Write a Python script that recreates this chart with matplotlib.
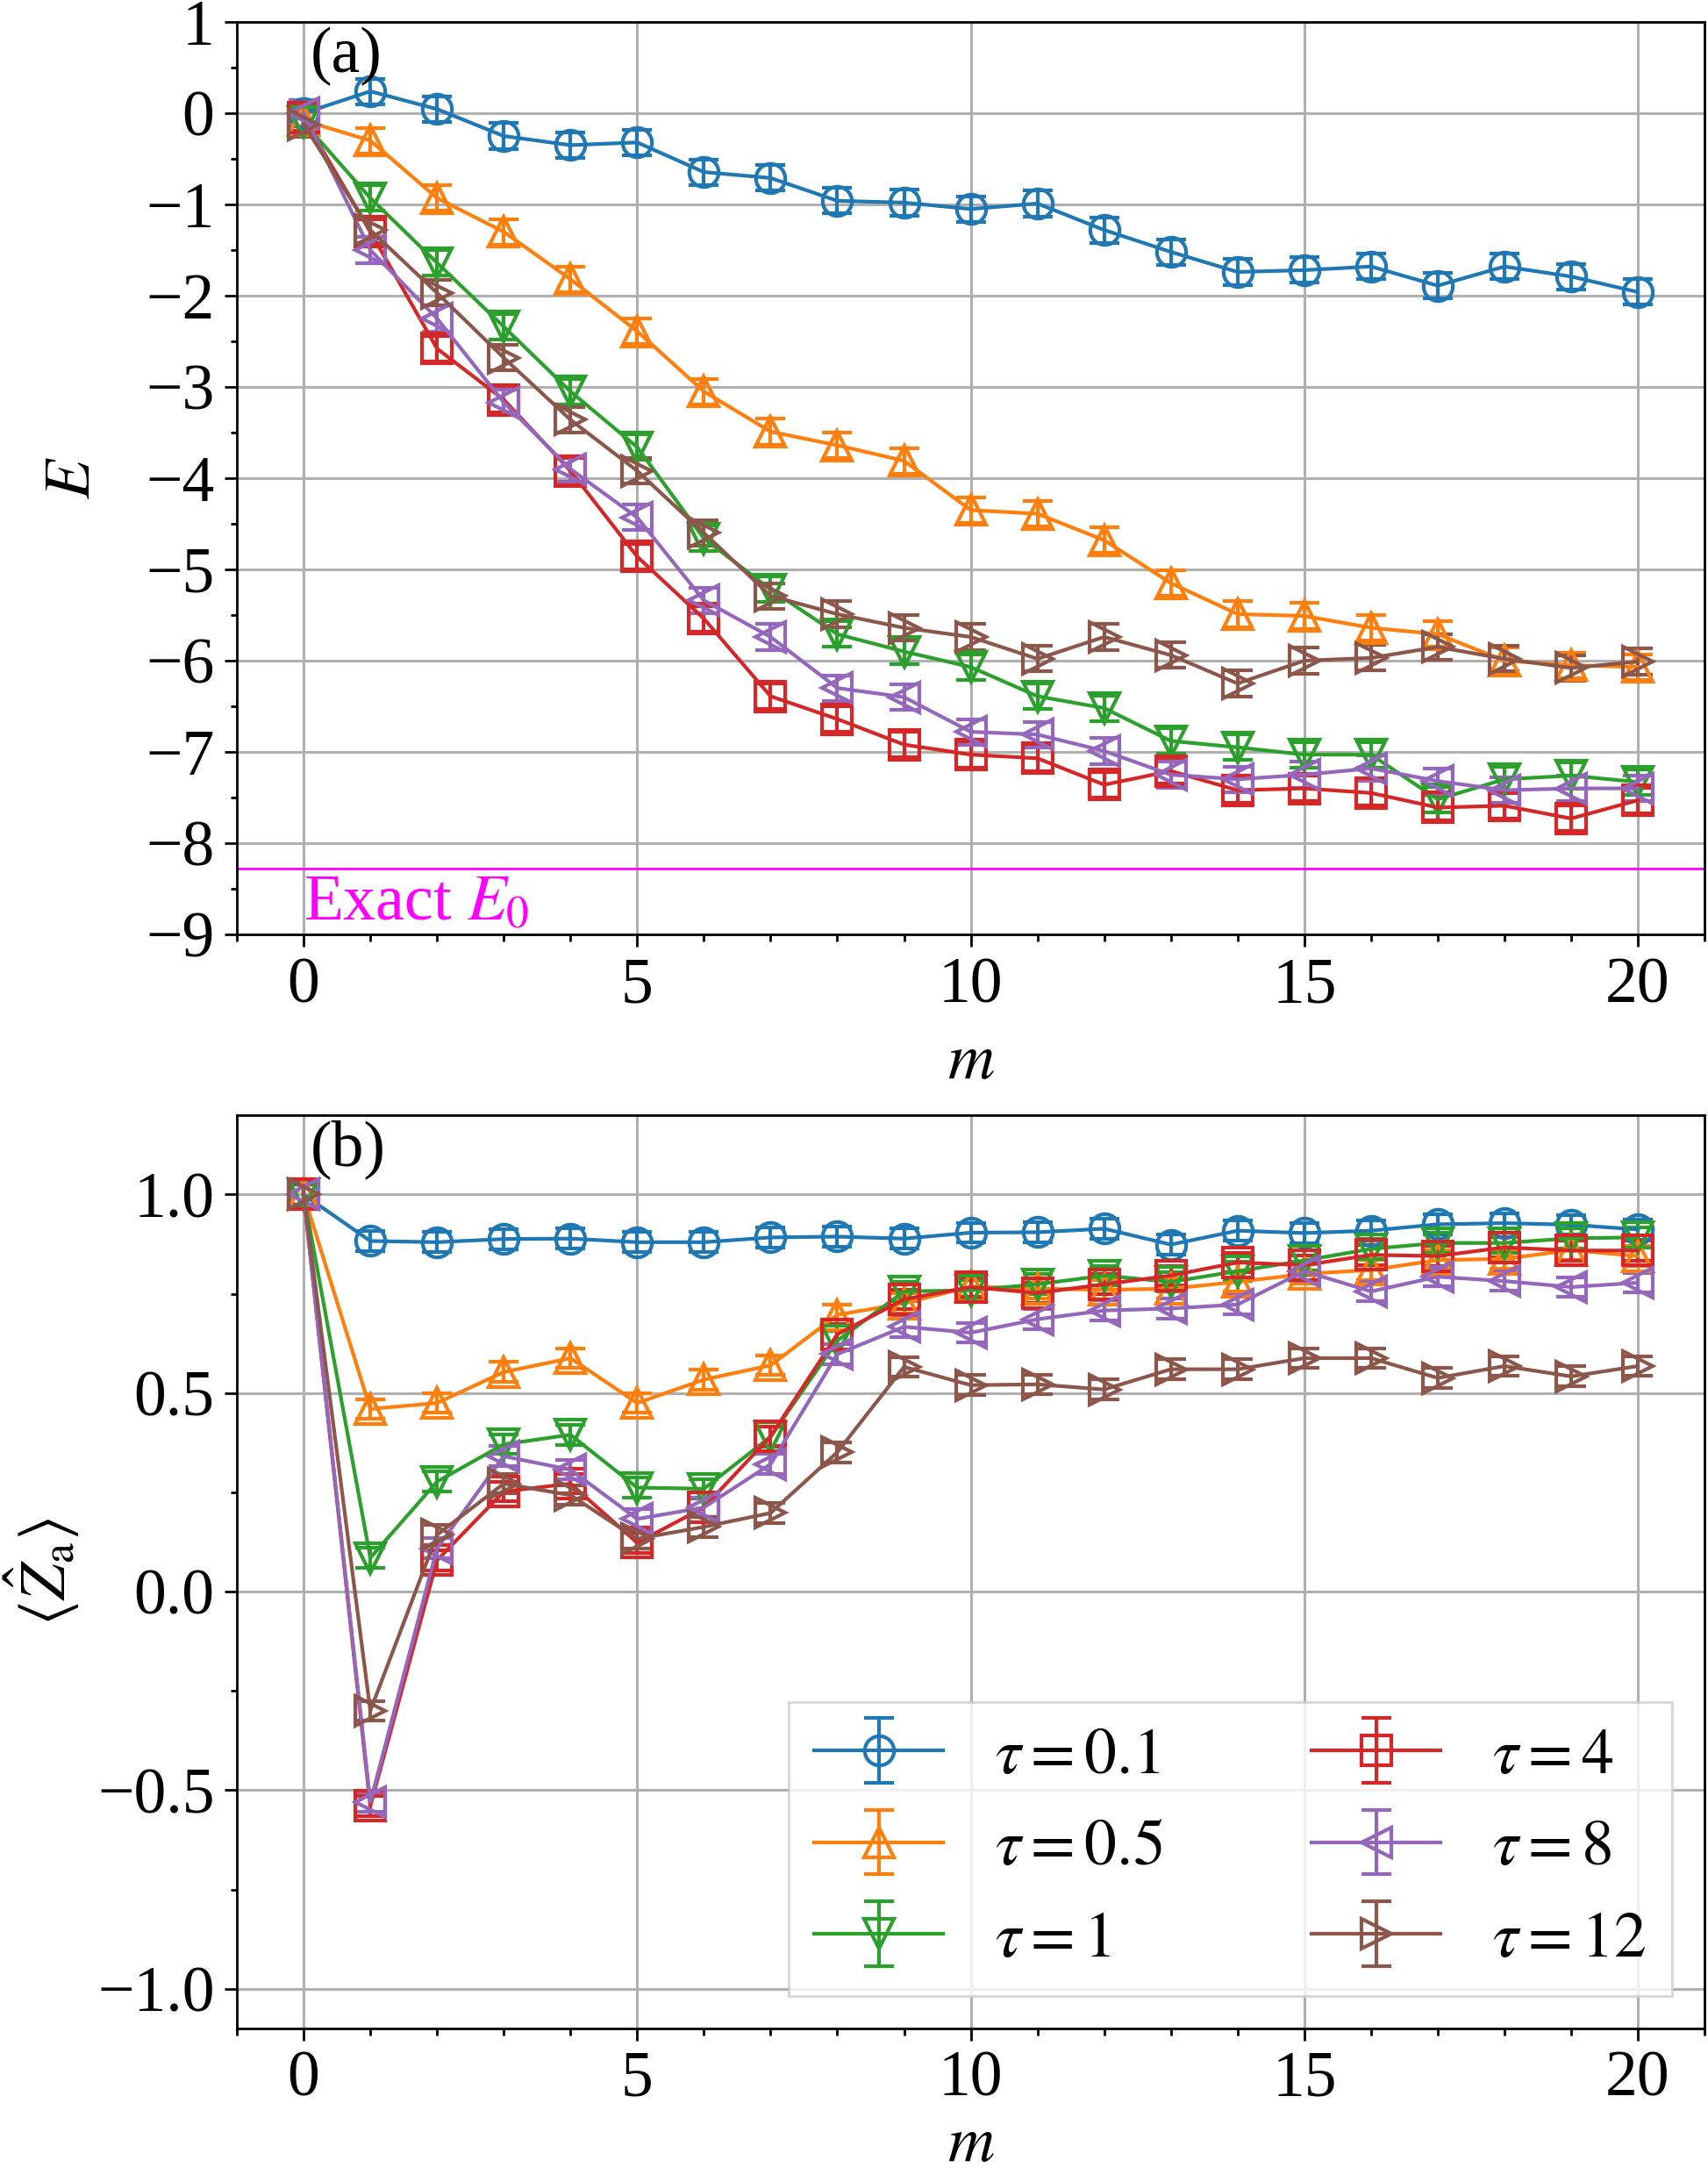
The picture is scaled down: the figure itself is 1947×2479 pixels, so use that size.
import matplotlib
matplotlib.use("Agg")
import matplotlib.pyplot as plt
from matplotlib.ticker import MultipleLocator

plt.rcParams['font.family'] = ['Liberation Serif', 'DejaVu Serif']
plt.rcParams['mathtext.fontset'] = 'stix'
plt.rcParams['font.size'] = 26.5

m = list(range(21))
labels = [r'$\tau=0.1$', r'$\tau=0.5$', r'$\tau=1$', r'$\tau=4$', r'$\tau=8$', r'$\tau=12$']
markers = ['o', '^', 'v', 's', '<', '>']
colors = ['#1f77b4', '#ff7f0e', '#2ca02c', '#d62728', '#9467bd', '#8c564b']

# Panel (a): energy E vs m
E_tau01 = [0.0, 0.24, 0.045, -0.25, -0.35, -0.32, -0.645, -0.71, -0.96, -0.98, -1.05,
           -0.99, -1.28, -1.52, -1.74, -1.72, -1.68, -1.89, -1.68, -1.79, -1.96]
E_tau05 = [-0.08, -0.30, -0.93, -1.30, -1.82, -2.39, -3.05, -3.49, -3.64, -3.81, -4.35,
           -4.39, -4.68, -5.15, -5.49, -5.51, -5.64, -5.71, -6.00, -6.05, -6.07]
E_tau1 = [-0.10, -0.93, -1.64, -2.34, -3.05, -3.66, -4.66, -5.22, -5.71, -5.90, -6.07,
          -6.39, -6.52, -6.88, -6.95, -7.03, -7.03, -7.52, -7.30, -7.26, -7.33]
E_tau4 = [-0.05, -1.30, -2.58, -3.14, -3.92, -4.86, -5.54, -6.39, -6.64, -6.92, -7.03,
          -7.07, -7.36, -7.21, -7.42, -7.40, -7.45, -7.61, -7.59, -7.73, -7.53]
E_tau8 = [0.0, -1.50, -2.25, -3.17, -3.90, -4.43, -5.34, -5.74, -6.30, -6.40, -6.78,
          -6.81, -6.99, -7.25, -7.30, -7.25, -7.18, -7.32, -7.42, -7.40, -7.40]
E_tau12 = [-0.12, -1.28, -1.97, -2.68, -3.36, -3.92, -4.60, -5.29, -5.49, -5.64, -5.74,
           -5.98, -5.74, -5.94, -6.25, -6.00, -5.97, -5.85, -5.98, -6.08, -6.01]
E_err = 0.14
E0_exact = -8.28

# Panel (b): <Z_a> vs m
Z_tau01 = [1.0, 0.883, 0.880, 0.888, 0.889, 0.880, 0.880, 0.892, 0.894, 0.889, 0.904,
           0.905, 0.914, 0.874, 0.909, 0.903, 0.909, 0.925, 0.928, 0.924, 0.912]
Z_tau05 = [1.0, 0.46, 0.475, 0.553, 0.588, 0.475, 0.534, 0.57, 0.697, 0.726, 0.768,
           0.763, 0.76, 0.763, 0.78, 0.80, 0.81, 0.835, 0.838, 0.86, 0.845]
Z_tau1 = [1.0, 0.085, 0.277, 0.371, 0.395, 0.262, 0.259, 0.39, 0.632, 0.756, 0.759,
          0.774, 0.796, 0.78, 0.807, 0.834, 0.863, 0.878, 0.878, 0.89, 0.892]
Z_tau4 = [1.0, -0.54, 0.079, 0.252, 0.272, 0.123, 0.212, 0.391, 0.648, 0.736, 0.767,
          0.752, 0.774, 0.796, 0.829, 0.822, 0.848, 0.845, 0.867, 0.859, 0.859]
Z_tau8 = [1.0, -0.53, 0.109, 0.341, 0.307, 0.183, 0.212, 0.321, 0.598, 0.667, 0.652,
          0.686, 0.708, 0.713, 0.723, 0.807, 0.756, 0.793, 0.782, 0.767, 0.778]
Z_tau12 = [1.0, -0.30, 0.143, 0.272, 0.243, 0.133, 0.163, 0.198, 0.351, 0.566, 0.52,
           0.522, 0.509, 0.56, 0.56, 0.588, 0.588, 0.538, 0.568, 0.542, 0.568]
Z_err = 0.025

E_series = [E_tau01, E_tau05, E_tau1, E_tau4, E_tau8, E_tau12]
Z_series = [Z_tau01, Z_tau05, Z_tau1, Z_tau4, Z_tau8, Z_tau12]

fig = plt.figure(figsize=(9.735, 12.395), dpi=200)
ax1 = fig.add_axes([0.1387, 0.5704, 0.8593, 0.4195])
ax2 = fig.add_axes([0.1387, 0.0674, 0.8593, 0.4199])

style = dict(fmt='-', markersize=12, mfc='none', mew=1.5, lw=1.5,
             capsize=6, capthick=1.5, elinewidth=1.5)

for ys, mk, c, lab in zip(E_series, markers, colors, labels):
    ax1.errorbar(m, ys, yerr=E_err, marker=mk, color=c, label=lab, **style)
for ys, mk, c, lab in zip(Z_series, markers, colors, labels):
    ax2.errorbar(m, ys, yerr=Z_err, marker=mk, color=c, label=lab, **style)

ax1.axhline(E0_exact, color='magenta', lw=1.0)
ax1.text(0, E0_exact - 0.07, r'Exact $E_0$', color='magenta', ha='left', va='top')

ax1.set_xlim(-1, 21)
ax1.set_ylim(-9, 1)
ax1.yaxis.set_major_locator(MultipleLocator(1))
ax1.yaxis.set_minor_locator(MultipleLocator(0.5))
ax2.set_xlim(-1, 21)
ax2.set_ylim(-1.1, 1.2)
ax2.yaxis.set_major_locator(MultipleLocator(0.5))
ax2.yaxis.set_minor_locator(MultipleLocator(0.25))

for ax in (ax1, ax2):
    ax.xaxis.set_major_locator(MultipleLocator(5))
    ax.xaxis.set_minor_locator(MultipleLocator(1))
    ax.grid(True, which='major', color='#b0b0b0', lw=1.1)
    ax.set_axisbelow(True)
    ax.tick_params(which='major', length=5.2, width=1.0, pad=4)
    ax.tick_params(which='minor', length=2.7, width=1.0)
    for sp in ax.spines.values():
        sp.set_linewidth(1.0)

ax1.set_xlabel(r'$m$', labelpad=7)
ax2.set_xlabel(r'$m$', labelpad=2.5)

ax1.set_ylabel(r'$E$')
ax1.yaxis.set_label_coords(-0.091, 0.5)
ax2.set_ylabel(r'$\langle\hat{Z}_{\mathrm{a}}\rangle$')
ax2.yaxis.set_label_coords(-0.106, 0.5)

ax1.text(0.05, 0.995, '(a)', transform=ax1.transAxes, ha='left', va='top')
ax2.text(0.05, 0.995, '(b)', transform=ax2.transAxes, ha='left', va='top')

ax2.legend(loc='lower right', ncol=2, fancybox=False, edgecolor='#cccccc',
           columnspacing=2.3)

fig.savefig('out.png', dpi=200)
